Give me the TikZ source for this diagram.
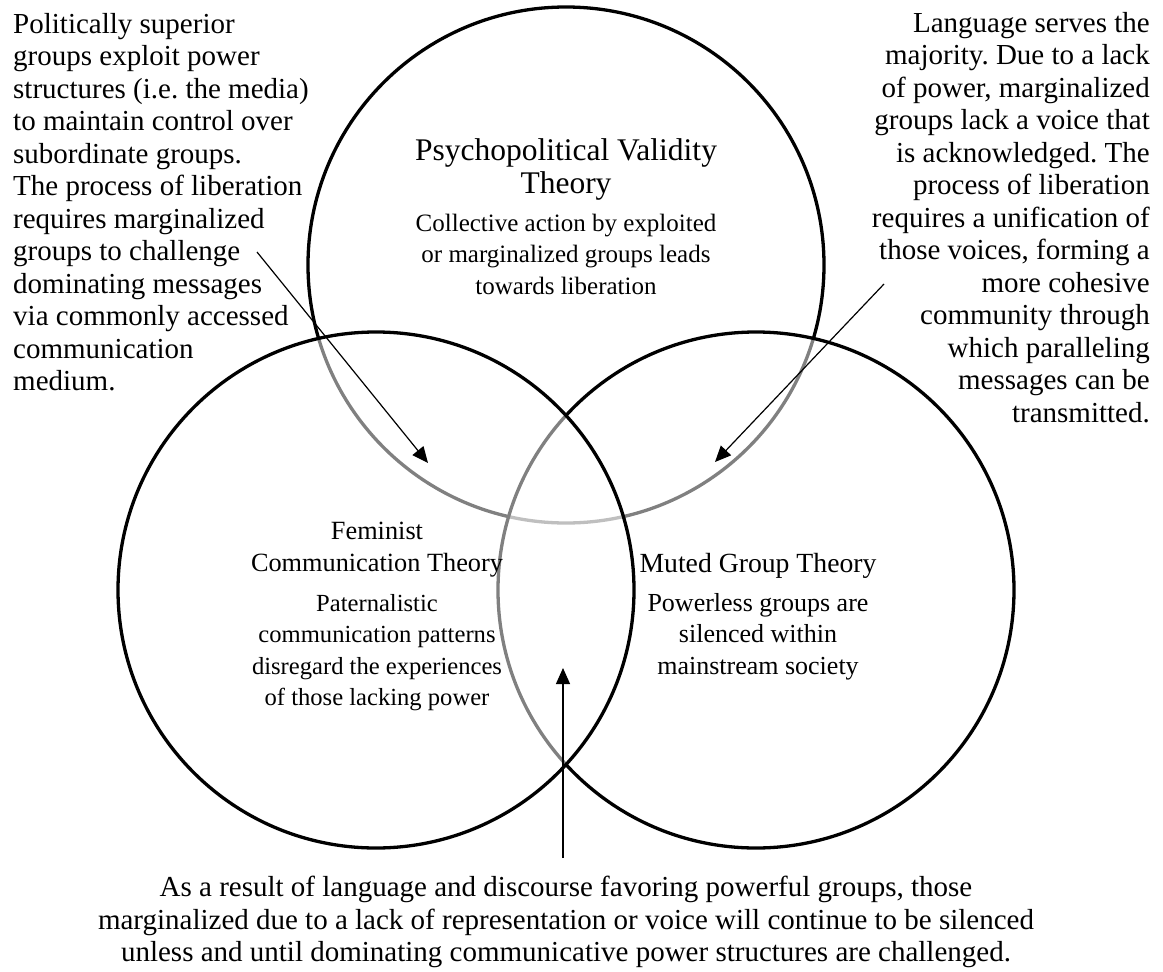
\documentclass[tikz,border=0pt]{standalone}
\usepackage{fontspec}
\setmainfont{Liberation Serif}
\usetikzlibrary{arrows.meta}
\frenchspacing
\begin{document}
\begin{tikzpicture}[x=1pt,y=-1pt,
  venn/.style={circle, inner sep=0pt, minimum size=516pt, line width=3.3pt, draw=black, fill=white, fill opacity=0.5},
  sidetext/.style={font=\fontsize{29}{32.5}\selectfont, inner sep=0pt},
  ctext/.style={inner sep=0pt, align=center, anchor=north},
  pointer/.style={line width=1.2pt, -{Triangle[length=16pt,width=14pt]}}]
\useasboundingbox (0,0) rectangle (1163,972);
% circles (drawing order gives the grey overlaps)
\node[venn] (ctop) at (566,265) {};
\node[venn] (cright) at (756,590) {};
\node[venn] (cleft) at (376,590) {};
% circle texts
\node[ctext, font=\fontsize{31.5}{32.5}\selectfont] (toptitle) at (566,138.5) {Psychopolitical Validity\\Theory};
\node[ctext, font=\fontsize{25}{31.5}\selectfont] (topbody) at (566,213.7) {Collective action by exploited\\or marginalized groups leads\\towards liberation};
\node[ctext, font=\fontsize{26.3}{32}\selectfont] (lefttitle) at (377,521.8) {Feminist\\Communication Theory};
\node[ctext, font=\fontsize{24.6}{31.5}\selectfont] (leftbody) at (377,594) {Paternalistic\\communication patterns\\disregard the experiences\\of those lacking power};
\node[ctext, font=\fontsize{27.7}{32}\selectfont] (righttitle) at (758,553) {Muted Group Theory};
\node[ctext, font=\fontsize{26}{31.5}\selectfont] (rightbody) at (758,593) {Powerless groups are\\silenced within\\mainstream society};
% side texts
\node[sidetext, align=left, anchor=north west] (lefttext) at (13,13) {Politically superior\\groups exploit power\\structures (i.e. the media)\\to maintain control over\\subordinate groups.\\The process of liberation\\requires marginalized\\groups to challenge\\dominating messages\\via commonly accessed\\communication\\medium.};
\node[sidetext, align=right, anchor=north east] (righttext) at (1150,12) {Language serves the\\majority. Due to a lack\\of power, marginalized\\groups lack a voice that\\is acknowledged. The\\process of liberation\\requires a unification of\\those voices, forming a\\more cohesive\\community through\\which paralleling\\messages can be\\transmitted.};
\node[sidetext, align=center, anchor=north] (bottomtext) at (566,876) {As a result of language and discourse favoring powerful groups, those\\marginalized due to a lack of representation or voice will continue to be silenced\\unless and until dominating communicative power structures are challenged.};
% pointers
\coordinate (lsrc) at (257,252);
\coordinate (ltip) at (428,463);
\coordinate (rsrc) at (884,284);
\coordinate (rtip) at (715,462);
\coordinate (bsrc) at (563,858);
\coordinate (btip) at (563,668);
\draw[pointer] (lsrc) -- (ltip);
\draw[pointer] (rsrc) -- (rtip);
\draw[pointer] (bsrc) -- (btip);
\end{tikzpicture}
\end{document}
